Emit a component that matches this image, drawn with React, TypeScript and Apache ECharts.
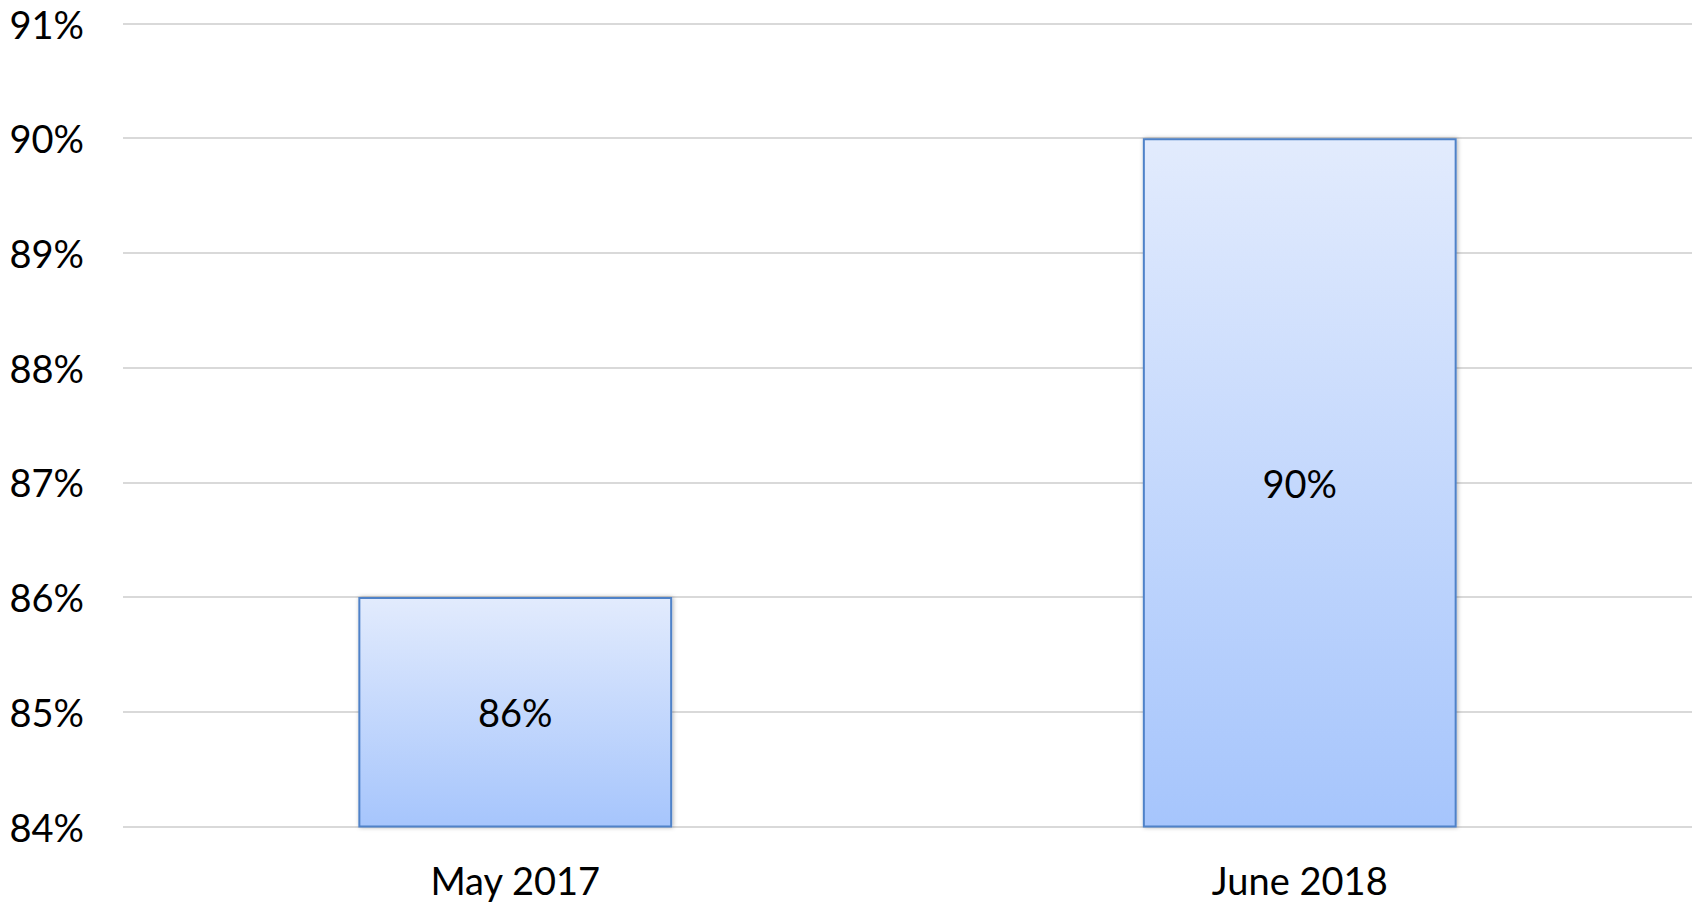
import React, { useEffect, useRef } from "react";
import * as echarts from "echarts";

const categories = ["May 2017", "June 2018"];
const values = [86, 90];
const yMin = 84;
const yMax = 91;
const yInterval = 1;

export default function App() {
  const ref = useRef<HTMLDivElement>(null);
  useEffect(() => {
    document.body.style.margin = "0";
    const chart = echarts.init(ref.current!, null, { renderer: "svg" });
    chart.setOption({
      animation: false,
      backgroundColor: "#ffffff",
      grid: { left: 123, right: 4, top: 23.5, bottom: 76.5, containLabel: false },
      xAxis: {
        type: "category",
        data: categories,
        axisLine: { show: false },
        axisTick: { show: false },
        axisLabel: {
          color: "#000000",
          fontSize: 38,
          fontFamily: "Lato",
          margin: 34,
        },
      },
      yAxis: {
        type: "value",
        min: yMin,
        max: yMax,
        interval: yInterval,
        axisLine: { show: false },
        axisTick: { show: false },
        splitLine: { lineStyle: { color: "#D9D9D9", width: 2 } },
        axisLabel: {
          color: "#000000",
          fontSize: 38,
          fontFamily: "Lato",
          margin: 39,
          formatter: "{value}%",
        },
      },
      series: [
        {
          type: "bar",
          data: values,
          barWidth: "40%",
          itemStyle: {
            color: new echarts.graphic.LinearGradient(0, 0, 0, 1, [
              { offset: 0, color: "#E2EBFD" },
              { offset: 1, color: "#A6C5FC" },
            ]),
            borderColor: "#4F82C8",
            borderWidth: 2,
            shadowBlur: 4,
            shadowColor: "rgba(0,0,0,0.3)",
            shadowOffsetX: 1,
            shadowOffsetY: 0,
          },
          label: {
            show: true,
            position: "inside",
            color: "#000000",
            fontSize: 38,
            fontFamily: "Lato",
            formatter: "{c}%",
          },
        },
      ],
    });
    return () => chart.dispose();
  }, []);
  return <div ref={ref} style={{ width: 1696, height: 903 }} />;
}
